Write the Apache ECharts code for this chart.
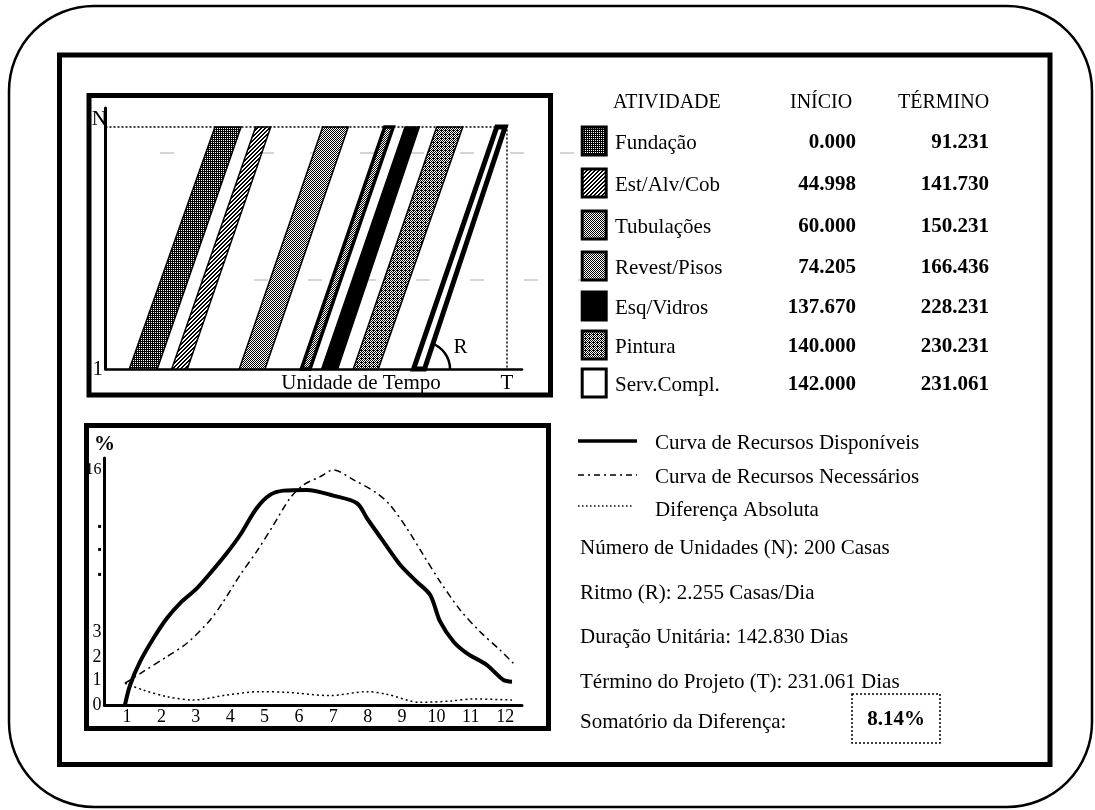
<!DOCTYPE html>
<html>
<head>
<meta charset="utf-8">
<script src="https://cdn.jsdelivr.net/npm/echarts@6/dist/echarts.min.js"></script>
<style>
  html, body { margin: 0; padding: 0; background: #fff; }
  #chart { width: 1095px; height: 810px; }
</style>
</head>
<body>
<div id="chart"></div>
<script>
// dados da tabela de atividades
const atividades = ['Fundação', 'Est/Alv/Cob', 'Tubulações', 'Revest/Pisos', 'Esq/Vidros', 'Pintura', 'Serv.Compl.'];
const inicio = [0.000, 44.998, 60.000, 74.205, 137.670, 140.000, 142.000];
const termino = [91.231, 141.730, 150.231, 166.436, 228.231, 230.231, 231.061];

// parâmetros do projeto
const unidadesN = 200;
const ritmoR = 2.255;
const duracaoUnit = 142.830;
const terminoT = 231.061;
const somaDif = 8.14;

// faixas do diagrama de balanço (escala esquemática do desenho, em dias)
const faixaBaseIni = [13.7, 38.1, 77.0, 112.7, 124.4, 142.6, 177.3];
const faixaBaseFim = [29.8, 47.1, 91.8, 117.7, 133.6, 157.0, 183.6];
const faixaTopoIni = [63.0, 86.4, 125.0, 160.7, 172.4, 190.6, 225.2];
const faixaTopoFim = [78.0, 95.1, 139.7, 165.6, 180.6, 205.6, 230.0];

// curvas de recursos (% por mês)
const mesesDisp = [0.94, 1.09, 1.38, 1.77, 2.16, 2.54, 3.03, 3.42, 3.9, 4.29, 4.77, 5.16, 5.55, 6.23, 7.0, 7.69, 7.98, 8.46, 8.95, 9.43, 9.82, 10.11, 10.5, 10.89, 11.47, 11.95, 12.2];
const recDisp = [0, 1.36, 2.95, 4.54, 5.9, 6.92, 7.94, 8.97, 10.33, 11.57, 13.39, 14.3, 14.59, 14.64, 14.25, 13.73, 12.71, 11.12, 9.53, 8.39, 7.49, 5.67, 4.31, 3.52, 2.72, 1.7, 1.59];
const mesesNec = [0.94, 1.47, 2.16, 2.74, 3.42, 3.8, 4.29, 4.77, 5.26, 5.74, 6.13, 6.62, 7.0, 7.59, 8.27, 8.65, 9.14, 9.62, 10.11, 10.69, 11.27, 11.85, 12.24];
const recNec = [1.48, 2.27, 3.29, 4.2, 5.79, 7.03, 8.85, 10.44, 12.25, 14.07, 14.98, 15.54, 16.0, 15.32, 14.41, 13.61, 12.03, 10.21, 8.39, 6.47, 4.99, 3.74, 2.84];
const mesesDif = [0.94, 1.47, 2.16, 2.93, 3.9, 4.87, 5.65, 6.91, 7.98, 8.56, 9.53, 10.4, 11.08, 12.2];
const difAbs = [1.48, 1.02, 0.57, 0.34, 0.68, 0.91, 0.86, 0.64, 0.91, 0.73, 0.18, 0.27, 0.41, 0.34];

// rótulos dos eixos
const mesesTick = [1, 2, 3, 4, 5, 6, 7, 8, 9, 10, 11, 12];
const pctTickVal = [0, 1.7, 3.27, 4.97, 8.85, 10.55, 12.1, 16];
const pctTickTxt = ['0', '1', '2', '3', '▪', '▪', '▪', '16'];

const FONT = '"Liberation Serif", "Times New Roman", serif';

// padrões de preenchimento (hachuras)
function padrao(linhas) {
  const c = document.createElement('canvas');
  c.width = linhas[0].length;
  c.height = linhas.length;
  const ctx = c.getContext('2d');
  ctx.fillStyle = '#fff';
  ctx.fillRect(0, 0, c.width, c.height);
  ctx.fillStyle = '#000';
  linhas.forEach((l, y) => {
    for (let x = 0; x < l.length; x++) if (l[x] === '#') ctx.fillRect(x, y, 1, 1);
  });
  return { image: c, repeat: 'repeat' };
}
const fills = [
  padrao(['#.', '##']),
  padrao(['##..', '#..#', '..##', '.##.']),
  padrao(['#.', '.#']),
  padrao(['#.', '.#']),
  '#000',
  padrao(['#.#.', '.#.#', '###.', '.#.#']),
  '#fff'
];
const bordas = [1.5, 1.5, 1.5, 3.5, 1.5, 1.5, 5];

const chart = echarts.init(document.getElementById('chart'));

const txt = (text, x, y, opts) => Object.assign({
  type: 'text',
  style: Object.assign({
    text: text, x: x, y: y, fill: '#000',
    fontFamily: FONT, fontSize: 21,
    align: 'left', verticalAlign: 'middle'
  }, opts || {})
});

const graphics = [
  // moldura externa arredondada
  { type: 'rect', shape: { x: 9, y: 6, width: 1083, height: 801, r: 85 },
    style: { fill: 'none', stroke: '#000', lineWidth: 2.5 } },
  // moldura interna
  { type: 'rect', shape: { x: 59.5, y: 55, width: 990.5, height: 709.5 },
    style: { fill: 'none', stroke: '#000', lineWidth: 5 } },
  // caixas dos gráficos
  { type: 'rect', shape: { x: 89, y: 95.5, width: 461.5, height: 299.5 },
    style: { fill: 'none', stroke: '#000', lineWidth: 5 } },
  { type: 'rect', shape: { x: 86.5, y: 425.5, width: 462, height: 303 },
    style: { fill: 'none', stroke: '#000', lineWidth: 5 } },
  // marcas tracejadas da cópia
  { type: 'line', shape: { x1: 160, y1: 153, x2: 595, y2: 153 },
    style: { stroke: '#aaa', lineWidth: 1, lineDash: [14, 36] } },
  { type: 'line', shape: { x1: 200, y1: 280, x2: 625, y2: 280 },
    style: { stroke: '#aaa', lineWidth: 1, lineDash: [14, 40] } },
  txt('Unidade de Tempo', 361, 383, { align: 'center' }),
  // cabeçalho da tabela
  txt('ATIVIDADE', 613, 103, { fontSize: 20 }),
  txt('INÍCIO', 790, 103, { fontSize: 20 }),
  txt('TÉRMINO', 898, 103, { fontSize: 20 })
];

const linhaY = [143, 185, 227, 268, 308, 347, 385];
atividades.forEach((a, i) => {
  const y = linhaY[i];
  graphics.push({ type: 'rect', shape: { x: 582.2, y: y - 16, width: 24, height: 28 },
    style: { fill: fills[i], stroke: '#000', lineWidth: 3 } });
  graphics.push(txt(a, 615, y));
  graphics.push(txt(inicio[i].toFixed(3), 856, y, { align: 'right', fontWeight: 'bold' }));
  graphics.push(txt(termino[i].toFixed(3), 989, y, { align: 'right', fontWeight: 'bold' }));
});

// legenda das curvas e resumo
graphics.push(
  { type: 'line', shape: { x1: 578, y1: 441, x2: 637, y2: 441 }, style: { stroke: '#000', lineWidth: 3.5 } },
  { type: 'line', shape: { x1: 578, y1: 475, x2: 637, y2: 475 }, style: { stroke: '#000', lineWidth: 1.5, lineDash: [6, 4, 2, 4] } },
  { type: 'line', shape: { x1: 578, y1: 506, x2: 634, y2: 506 }, style: { stroke: '#000', lineWidth: 1.5, lineDash: [1.5, 2.5] } },
  txt('Curva de Recursos Disponíveis', 655, 443),
  txt('Curva de Recursos Necessários', 655, 477),
  txt('Diferença Absoluta', 655, 510),
  txt('Número de Unidades (N): ' + unidadesN + ' Casas', 580, 548),
  txt('Ritmo (R): ' + ritmoR.toFixed(3) + ' Casas/Dia', 580, 593),
  txt('Duração Unitária: ' + duracaoUnit.toFixed(3) + ' Dias', 580, 637),
  txt('Término do Projeto (T): ' + terminoT.toFixed(3) + ' Dias', 580, 682),
  txt('Somatório da Diferença:', 580, 722),
  { type: 'rect', shape: { x: 852, y: 694, width: 88, height: 49 },
    style: { fill: 'none', stroke: '#000', lineWidth: 1.5, lineDash: [2, 2] } },
  txt(somaDif.toFixed(2) + '%', 896, 720, { align: 'center', fontWeight: 'bold' })
);

const eixoPreto = (w) => ({ show: true, lineStyle: { color: '#000', width: w } });

const option = {
  backgroundColor: '#fff',
  animation: false,
  graphic: graphics,
  grid: [
    { left: 105.5, top: 108, width: 416.5, height: 261 },
    { left: 104.5, top: 458, width: 417.5, height: 247 }
  ],
  xAxis: [
    {
      type: 'value', gridIndex: 0, min: 0, max: 239.7,
      axisLine: eixoPreto(2.5), axisTick: { show: false }, splitLine: { show: false },
      axisLabel: { customValues: [terminoT], formatter: () => 'T', color: '#000',
        fontFamily: FONT, fontSize: 21, margin: 4 }
    },
    {
      type: 'value', gridIndex: 1, min: 0.345, max: 12.49,
      axisLine: eixoPreto(3), axisTick: { show: false }, splitLine: { show: false },
      axisLabel: { customValues: mesesTick, color: '#000', fontFamily: FONT,
        fontSize: 18, margin: 3 }
    }
  ],
  yAxis: [
    {
      type: 'value', gridIndex: 0, min: 1, max: 215.6,
      axisLine: eixoPreto(3), axisTick: { show: false }, splitLine: { show: false },
      axisLabel: {
        customValues: [1, unidadesN], margin: -1.5, color: '#000',
        fontFamily: FONT, fontSize: 21,
        formatter: v => v === unidadesN ? '{n|N}' : '{o|1}',
        rich: { n: { fontFamily: FONT, fontSize: 21, padding: [0, 0, 14, 0] },
                o: { fontFamily: FONT, fontSize: 21, padding: [0, 4, 0, 0] } }
      }
    },
    {
      type: 'value', gridIndex: 1, min: 0, max: 16.81,
      name: '%', nameLocation: 'end', nameGap: 3,
      nameTextStyle: { color: '#000', fontFamily: FONT, fontSize: 21, fontWeight: 'bold', align: 'center' },
      axisLine: eixoPreto(3), axisTick: { show: false }, splitLine: { show: false },
      axisLabel: {
        customValues: pctTickVal, margin: 3, color: '#000', fontFamily: FONT, fontSize: 18,
        formatter: v => {
          const t = pctTickTxt[pctTickVal.indexOf(v)];
          if (t === '▪') return '{d|▪}';
          if (t === '16') return '{s|16}';
          return t;
        },
        rich: { d: { fontSize: 12, color: '#000' }, s: { fontFamily: FONT, fontSize: 16, color: '#000' } }
      }
    }
  ],
  series: [
    {
      name: 'faixas', type: 'custom', xAxisIndex: 0, yAxisIndex: 0,
      data: atividades.map((a, i) => [i]),
      renderItem: (params, api) => {
        const i = api.value(0);
        const pts = [
          api.coord([faixaBaseIni[i], 1]),
          api.coord([faixaBaseFim[i], 1]),
          api.coord([faixaTopoFim[i], unidadesN]),
          api.coord([faixaTopoIni[i], unidadesN])
        ];
        return { type: 'polygon', shape: { points: pts },
          style: { fill: fills[i], stroke: '#000', lineWidth: bordas[i] } };
      }
    },
    {
      name: 'limites', type: 'line', xAxisIndex: 0, yAxisIndex: 0,
      data: [[0, unidadesN], [terminoT, unidadesN], [terminoT, 1]],
      symbol: 'none', lineStyle: { color: '#000', width: 1.5, type: [2, 2] }
    },
    {
      name: 'ritmo', type: 'custom', xAxisIndex: 0, yAxisIndex: 0,
      data: [[6]],
      renderItem: (params, api) => {
        const i = api.value(0);
        const c = api.coord([faixaBaseFim[i], 1]);
        const t = api.coord([faixaTopoFim[i], unidadesN]);
        const ang = Math.atan2(t[1] - c[1], t[0] - c[0]);
        return { type: 'group', children: [
          { type: 'arc', shape: { cx: c[0] - 1.5, cy: c[1], r: 27, startAngle: ang, endAngle: 0, clockwise: true },
            style: { fill: 'none', stroke: '#000', lineWidth: 2.5 } },
          { type: 'text', style: { text: 'R', x: c[0] + 36, y: c[1] - 22, fill: '#000',
            fontFamily: FONT, fontSize: 21, align: 'center', verticalAlign: 'middle' } }
        ] };
      }
    },
    {
      name: 'Curva de Recursos Disponíveis', type: 'line', xAxisIndex: 1, yAxisIndex: 1,
      data: mesesDisp.map((m, i) => [m, recDisp[i]]),
      symbol: 'none', smooth: 0.3, lineStyle: { color: '#000', width: 4 }
    },
    {
      name: 'Curva de Recursos Necessários', type: 'line', xAxisIndex: 1, yAxisIndex: 1,
      data: mesesNec.map((m, i) => [m, recNec[i]]),
      symbol: 'none', smooth: 0.3, lineStyle: { color: '#000', width: 1.5, type: [7, 4, 2, 4] }
    },
    {
      name: 'Diferença Absoluta', type: 'line', xAxisIndex: 1, yAxisIndex: 1,
      data: mesesDif.map((m, i) => [m, difAbs[i]]),
      symbol: 'none', smooth: 0.3, lineStyle: { color: '#000', width: 1.5, type: [2, 3] }
    }
  ]
};

chart.setOption(option);
</script>
</body>
</html>
